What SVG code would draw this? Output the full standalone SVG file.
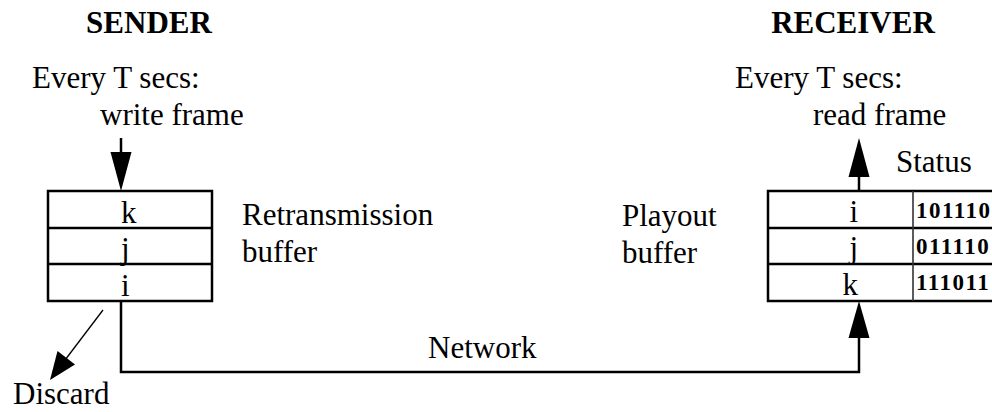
<svg xmlns="http://www.w3.org/2000/svg" width="992" height="412" viewBox="0 0 992 412">
<style>
text{font-family:"Liberation Serif","Times New Roman",serif;font-size:31px;fill:#000}
.h{font-weight:bold}
.bits{font-weight:bold;font-size:23px;letter-spacing:1.5px}
.box{fill:#fff;stroke:#000;stroke-width:2.5}
.ln{fill:none;stroke:#000;stroke-width:2.5}
.thin{fill:none;stroke:#000;stroke-width:1.3}
.head{fill:#000;stroke:none}
</style>
<rect width="992" height="412" fill="#fff"/>
<g id="labels">
<text class="h" x="149" y="33" text-anchor="middle">SENDER</text>
<text x="32" y="88">Every T secs:</text>
<text x="100" y="125">write frame</text>
<text class="h" x="853" y="33" text-anchor="middle">RECEIVER</text>
<text x="735" y="88">Every T secs:</text>
<text x="813" y="125">read frame</text>
<text x="896" y="172">Status</text>
<text x="242" y="225">Retransmission</text>
<text x="242" y="262">buffer</text>
<text x="622" y="226">Playout</text>
<text x="622" y="263">buffer</text>
<text x="428" y="358">Network</text>
<text x="13" y="404">Discard</text>
</g>
<g id="retransmission-buffer">
<rect class="box" x="48" y="191" width="164" height="110"/>
<line class="ln" x1="48" y1="228" x2="212" y2="228"/>
<line class="ln" x1="48" y1="264" x2="212" y2="264"/>
<text x="121" y="223">k</text>
<text x="121" y="259">j</text>
<text x="121" y="296">i</text>
</g>
<g id="playout-buffer">
<rect class="box" x="768" y="191" width="250" height="110"/>
<line class="ln" x1="768" y1="228" x2="1000" y2="228"/>
<line class="ln" x1="768" y1="264" x2="1000" y2="264"/>
<line x1="913" y1="191" x2="913" y2="301" stroke="#333" stroke-width="1.6"/>
<text x="858" y="222" text-anchor="end">i</text>
<text x="858" y="258" text-anchor="end">j</text>
<text x="858" y="295" text-anchor="end">k</text>
<text class="bits" x="916" y="218">101110</text>
<text class="bits" x="916" y="254">011110</text>
<text class="bits" x="916" y="290">111011</text>
</g>
<g id="connectors">
<line class="ln" x1="121" y1="138" x2="121" y2="154"/>
<polygon class="head" points="110.5,152 131.5,152 121,191"/>
<line class="ln" x1="859" y1="175" x2="859" y2="191"/>
<polygon class="head" points="848.5,177 869.5,177 859,138"/>
<polyline class="ln" points="121,301 121,372 859,372 859,336"/>
<polygon class="head" points="848.5,338 869.5,338 859,301"/>
<line class="thin" x1="103" y1="310" x2="62" y2="364"/>
<polygon class="head" points="57.5,351 75,364.5 50,380"/>
</g>
</svg>
